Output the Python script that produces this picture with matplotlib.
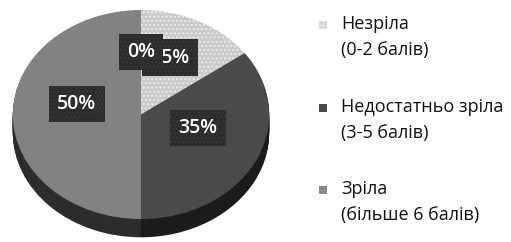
import matplotlib
matplotlib.use("Agg")
import matplotlib.pyplot as plt
from matplotlib.patches import Rectangle

# data: slice order is clockwise from 12 o'clock; the zero slice only carries the stray "0%" label
values = [0, 15, 35, 50]
legend_names = ["Незріла\n(0-2 балів)", "Недостатньо зріла\n(3-5 балів)", "Зріла\n(більше 6 балів)"]

TOP_COLORS = ["#cacaca", "#cacaca", "#4a4a4a", "#828282"]
SIDE_COLORS = ["#8a8a8a", "#8a8a8a", "#1b1b1b", "#2c2c2c"]
HATCHES = ["", "....", "", ""]
DEPTH = 0.175

plt.rcParams["font.family"] = ["Open Sans", "DejaVu Sans"]

fig = plt.figure(figsize=(5.11, 2.42), dpi=100)
ax = fig.add_axes([0, 0, 282 / 511, 1])

# extruded side: stack of darker pies shifted downwards
n_layers = 18
for i in range(n_layers, 0, -1):
    d = DEPTH * i / n_layers
    ax.pie(values, startangle=90, counterclock=False, colors=SIDE_COLORS,
           center=(0, -d), wedgeprops=dict(linewidth=0))

wedges, texts, autotexts = ax.pie(
    values, startangle=90, counterclock=False, colors=TOP_COLORS,
    autopct="%1.0f%%", pctdistance=0.5,
    wedgeprops=dict(linewidth=0),
    textprops=dict(color="white", fontsize=14, fontweight="semibold"))
for w, h in zip(wedges, HATCHES):
    if h:
        w.set_hatch(h)
        w.set_edgecolor("#ececec")

for k, t in enumerate(autotexts):
    x, y = t.get_position()
    t.set_position((x, y + 0.1))  # labels sit a bit higher on the tilted top face
    t.set_bbox(dict(boxstyle="square,pad=0.42", fc="#2c2c2c", ec="#383838",
                    hatch="....", lw=0))
    t.set_zorder(10 if values[k] == 0 else 5)

ax.set_aspect("auto")
ax.set_xlim(-1.1, 1.1)
ax.set_ylim(-1.22, 1.096)
ax.axis("off")

# legend drawn by hand to keep the two-line entries aligned like the original
marker_colors = ["#dcdcdc", "#4a4a4a", "#8a8a8a"]
entry_y = [25, 108, 190]  # pixel rows (from top) of the first text line
for name, col, y in zip(legend_names, marker_colors, entry_y):
    yf = 1 - y / 242
    fig.patches.append(Rectangle((319 / 511, yf - 4 / 242), 8 / 511, 8 / 242,
                                 transform=fig.transFigure, fc=col, ec="none"))
    fig.text(341 / 511, yf + 10 / 242, name, fontsize=13, va="top", ha="left",
             color="#111111", linespacing=1.6)

fig.savefig("out.png", dpi=100)
